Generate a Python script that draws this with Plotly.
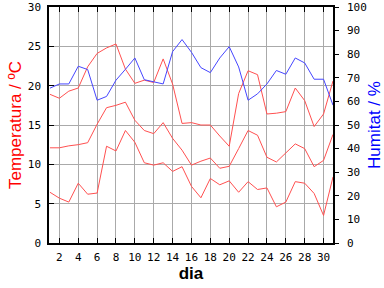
import plotly.graph_objects as go

days = list(range(1, 32))
t_max = [18.9, 18.4, 19.3, 19.7, 22.4, 24.1, 24.8, 25.3, 22.1, 20.3, 20.7, 20.4, 23.4, 20.2, 15.2, 15.3,
         15.0, 15.0, 13.6, 12.3, 19.0, 21.9, 21.4, 16.4, 16.5, 16.7, 19.7, 18.1, 14.8, 16.4, 20.6]
t_mean = [12.1, 12.1, 12.35, 12.5, 12.75, 15.1, 17.2, 17.5, 17.9, 15.6, 14.3, 13.9, 15.3, 13.3, 11.8, 9.9,
          10.4, 10.8, 9.5, 9.75, 12.0, 14.3, 13.7, 10.9, 10.3, 11.5, 12.6, 12.0, 9.7, 10.5, 13.8]
t_min = [6.45, 5.7, 5.2, 7.6, 6.2, 6.35, 12.3, 11.7, 14.3, 12.8, 10.2, 9.9, 10.2, 9.1, 9.7, 7.2,
         5.75, 8.2, 7.4, 7.9, 6.45, 7.8, 6.8, 7.0, 4.6, 5.2, 7.8, 7.6, 6.3, 3.5, 8.4]
humidity = [65.6, 67.4, 67.4, 74.9, 73.5, 60.5, 62.1, 69.0, 73.6, 78.4, 69.2, 68.2, 67.4, 81.1, 86.2, 80.8,
            74.3, 72.2, 78.4, 83.2, 74.6, 60.5, 63.2, 67.4, 73.1, 71.5, 78.4, 76.3, 69.4, 69.4, 58.4]
x_ticks = list(range(2, 31, 2))

red = "rgb(255,80,80)"
blue = "rgb(70,70,255)"

fig = go.Figure()
for s in (t_max, t_mean, t_min):
    fig.add_trace(go.Scatter(x=days, y=s, mode="lines", line=dict(color=red, width=1),
                             showlegend=False, yaxis="y"))
fig.add_trace(go.Scatter(x=days, y=humidity, mode="lines", line=dict(color=blue, width=1),
                         showlegend=False, yaxis="y2"))

tickfont = dict(family="DejaVu Sans Mono", size=11, color="black")
fig.update_layout(
    width=384, height=288,
    margin=dict(l=49, r=49, t=1, b=45, pad=0),
    paper_bgcolor="white", plot_bgcolor="white",
    xaxis=dict(range=[0.9, 31], tickvals=x_ticks, ticktext=[str(v) for v in x_ticks],
               ticks="inside", ticklen=5, tickcolor="black", mirror="ticks",
               showline=True, linecolor="black", linewidth=1.5,
               showgrid=True, gridcolor="rgb(170,170,170)", gridwidth=1, zeroline=False,
               tickfont=tickfont, ticklabelstandoff=3,
               title=dict(text="<b>dia</b>", font=dict(family="Liberation Sans", size=17, color="black"),
                          standoff=4)),
    yaxis=dict(range=[0, 30], dtick=5, ticks="inside", ticklen=5, tickcolor="black",
               mirror=True, showline=True, linecolor="black", linewidth=1.5,
               showgrid=True, gridcolor="rgb(170,170,170)", gridwidth=1, zeroline=False,
               tickfont=tickfont, ticklabelstandoff=4, ticklabeloverflow="allow",
               title=dict(text="Temperatura / ºC",
                          font=dict(family="Liberation Sans", size=17, color="rgb(255,0,0)"),
                          standoff=2)),
    yaxis2=dict(range=[0, 100], dtick=10, overlaying="y", side="right",
                ticks="outside", ticklen=4, tickcolor="black",
                showline=True, linecolor="black", linewidth=1.5, showgrid=False, zeroline=False,
                tickfont=tickfont, ticklabelstandoff=6, ticklabeloverflow="allow",
                title=dict(text="Humitat / %",
                           font=dict(family="Liberation Sans", size=17, color="rgb(0,0,255)"),
                           standoff=4)),
)
fig.write_html("out.html")
